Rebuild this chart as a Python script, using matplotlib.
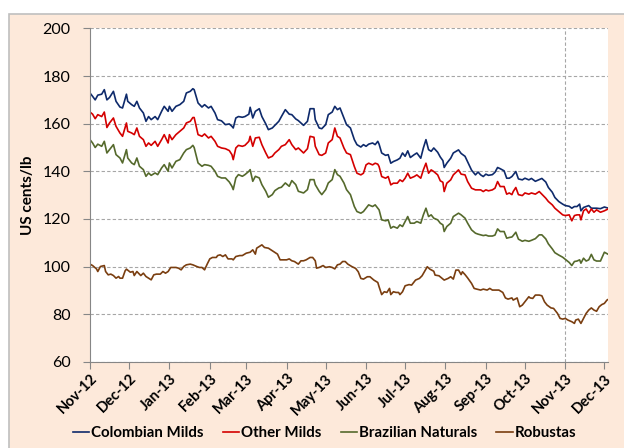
import numpy as np
import pandas as pd
import matplotlib
matplotlib.use('Agg')
import matplotlib.pyplot as plt
import matplotlib.dates as mdates
from matplotlib.patches import Rectangle

plt.rcParams['font.family'] = ['Lato', 'DejaVu Sans']

# days counted from 1 Nov 2012
start = pd.Timestamp('2012-11-01')
days_arabica = [0, 2, 4, 6, 9, 11, 13, 15, 18, 20, 23, 25, 28, 29, 32, 34, 36, 38, 41, 43, 45, 47,
                50, 52, 55, 57, 60, 61, 63, 66, 69, 72, 74, 77, 79, 80, 83, 86, 88, 91, 93, 96, 98, 101,
                104, 107, 109, 110, 112, 114, 117, 119, 122, 123, 125, 127, 130, 132, 135, 137, 140, 142,
                145, 147, 150, 153, 155, 158, 160, 164, 167, 169, 172, 173, 176, 178, 181, 183, 186, 188,
                190, 192, 195, 197, 200,
                203, 205, 208, 210, 212, 214, 217, 219, 221, 222, 224, 227, 229, 231, 233, 236, 238, 240,
                242, 244, 246, 249, 251, 254, 256, 258, 260, 262, 264, 267, 269, 271, 272, 274, 277, 279,
                283, 285, 288, 290, 293, 296, 298, 300,
                302, 304, 306, 309, 311, 313, 315, 318, 320, 322, 324, 325, 327, 329, 332, 334, 337, 339,
                342, 345, 347, 350, 352, 355, 357, 360, 363, 365, 368, 370, 372, 374, 376, 377, 379, 381,
                383, 385, 387, 389, 392, 395, 398]

colombian = [172.9, 171.5, 170, 172, 172.4, 174.3, 170, 171, 173.6, 169.4, 167, 166.6, 172.4, 169.4, 168,
             167.3, 169.4, 166.6, 164.5, 161, 163, 161.7, 163, 161.7, 165.2, 167.3, 165.2, 167.3, 165.2,
             167.3, 168, 169.4, 172.9, 173.6, 174.7, 174.3, 168.7, 167, 168, 166.6, 167.3, 164.5, 161.7, 161.2,
             159.6, 159.9, 158.9, 158.2, 162.4, 163, 162.7, 163, 164, 166.9, 162.4, 165.2, 166.3, 163, 159.9,
             157.5, 158.2, 159.3, 161, 163, 165.9, 164, 163.8, 162, 161.3, 159.3, 161, 166.3, 166.3, 161.7,
             158.2, 157.9, 159.6, 163.8, 164.9, 167.3, 165.9, 166.6, 162.4, 159.6, 158.2,
             153.3, 151.2, 150.2, 151.2, 150.5, 151.4, 151.9, 151.2, 152.6, 151.4, 147.7, 146.7, 147, 143.4,
             144.1, 144.8, 145.5, 147.7, 146.3, 148.6, 145.8, 147, 147.7, 145.5, 149.8, 153.3, 149.1, 148.4,
             149.8, 148, 146, 144.5, 141.6, 143.4, 145.5, 147.7, 149, 147.5, 146.3, 144, 140.5, 138.5, 139.7, 138.5,
             137.8, 138.8, 138.3, 138.6, 139.6, 141.6, 141.1, 140.2, 137.1, 137.1, 137.8, 138.5, 139.9, 136.8,
             136.4, 137.1, 136.4, 137, 135.8, 136.5, 137, 135.5, 133.2, 131.2, 129, 127.3, 126.2, 125.6, 125.3,
             124.5, 125.2, 125.2, 126.2, 123.4, 124.8, 125.2, 125.6, 124.5, 124.5, 124.5, 124.3, 125, 124.5]

other_milds = [164.9, 164, 162.1, 163.8, 163, 164.9, 158.4, 160.3, 162.4, 158.9, 156.1, 154.7, 160.3, 156.8,
               156.1, 155.4, 158.2, 154.7, 153.3, 150.5, 151.9, 150.9, 152.6, 150.5, 153.3, 155.4, 151.9, 155.4,
               153.3, 155.4, 156.8, 158.2, 160.3, 161, 162.6, 162.6, 155.4, 154.7, 155.7, 154, 154.7, 152.6,
               150.5, 149.8,
               149.5, 148.7, 147, 144.9, 149.8, 150.9, 150.5, 150.9, 152.6, 154.7, 150.5, 154, 154.3, 151.2,
               147.7, 145.6, 146.3, 147.7, 149.1, 150.5, 151.2, 153.3, 151.2, 149.1, 149.8, 147.7, 149.5, 154.7,
               154.3, 150.5, 147, 146.7, 147.7, 151.9, 153.3, 158.2, 154.7, 154, 149.8, 147.7, 147,
               142, 139.2, 138.5, 139.2, 142.7, 143.4, 142.7, 143.4, 143, 142, 137.8, 137.1, 137.8, 134.3, 135,
               135, 136.4, 135.7, 137.1, 139.2, 137.1, 137.8, 138.5, 137.1, 140.6, 143.4, 139.2, 140.6, 139.9,
               138.5, 136, 135.4, 131.5, 135, 136.4, 138.5, 140.6, 138.8, 138.5, 135.7, 132.9, 132.2, 132.2, 132.2,
               131.5, 132.2, 131.8, 132.2, 132.9, 135.7, 133.6, 133.6, 130.4, 130.9, 130.2, 131.5, 133.2, 130.2,
               129.8, 130.9, 130.4, 130.9, 130.4, 131.5, 130.4, 128.7, 127.3, 125.9, 124.5, 123.1, 121.7, 121.4,
               121.7, 119.2, 121.4, 121.7, 121.7, 119.6, 123.4, 124.2, 122.4, 124.2, 122.8, 123.8, 122.8, 123.4,
               124.2]

brazilian = [153.3, 151.9, 150, 151.4, 150.5, 152.6, 147.7, 149.1, 151.2, 147, 145.6, 143.5, 149.1, 145.6,
             143.5, 142.8, 145.6, 142.1, 140.7, 137.9, 139.3, 138.3, 139.3, 138.6, 141.4, 142.8, 140, 143.5,
             141.4, 144.2, 144.9, 147.7, 149.1, 149.8, 150.9, 150, 143.5, 142.1, 142.8, 142.5, 142.1, 140,
             137.9, 137.2,
             137.2, 135.5, 133.7, 132.3, 137.2, 138.6, 137.9, 138.6, 140, 140.7, 135.8, 137.9, 137.2, 134.4,
             131.6, 129.1, 130.2, 131.9, 133, 133.3, 135.1, 133.7, 136.1, 134.4, 131.6, 130.9, 132.3, 136.5,
             136.5, 134.4, 131.6, 130.2, 132.3, 135.1, 136.5, 140.7, 138.6, 137.9, 135.1, 132.3, 130.2,
             125.2, 123.1, 122.4, 123.1, 124.5, 125.9, 125.2, 125.9, 124.5, 123.8, 119.6, 119.2, 119.6, 116.1,
             116.8, 116.1, 117.5, 116.8, 118.9, 121, 118.2, 118.2, 118.9, 118.2, 121.7, 124.5, 121, 121.7,
             120.3, 119.6, 118.2, 117.5, 114.7, 116.8, 118.2, 121, 122.4, 121.7, 120.3, 118.2, 115.4, 114,
             113.6, 113.3,
             113, 113.2, 112.8, 112.8, 113.2, 115.8, 114.7, 114.7, 111.9, 112.2, 112.4, 113, 114.4, 111.5,
             110.6, 111, 110.6, 111, 111.7, 113.3, 113.3, 111.6, 109.5, 107.4, 105.8, 104.8, 103.9, 103,
             101.7, 100.4, 102.1, 102.3, 102.8, 101.4, 103.5, 102.3, 102.8, 105.1, 102.8, 102.3, 102.3, 106,
             105.1]

days_robusta = [0, 2, 5, 6, 8, 11, 12, 14, 16, 18, 20, 22, 23, 25, 27, 28, 31, 33, 34, 36, 38, 39, 41, 43,
                45, 47, 49, 51, 54, 56, 58, 60, 62, 64, 66, 68, 70, 72, 74, 77, 79, 82, 84, 86, 88, 90, 92,
                94, 97, 98, 100, 102, 104, 106, 109, 110, 112, 115, 117, 120, 123, 125, 127, 128, 130, 132,
                134, 137, 139, 142, 144, 146, 148, 151, 153, 155, 157, 160, 162, 164, 166, 169, 171, 173,
                174, 176, 179, 181, 184, 186, 188, 190, 192, 194, 196, 198, 201,
                204, 206, 208, 210, 213, 215, 218, 221, 222, 224, 226, 228, 230, 231, 233, 235, 237, 238,
                240, 242, 245, 247, 250, 253, 255, 257, 259, 261, 264, 265, 268, 270, 272, 275, 277, 279,
                281, 283, 285, 286, 288, 290, 293, 295, 297, 300, 302, 305, 307, 309, 311, 314, 317, 319,
                321, 324, 325, 328, 330, 332, 334, 337, 338, 340, 342, 345, 347, 349, 351, 354, 356, 359,
                361, 363, 365, 367, 370, 372, 373, 375, 377, 379, 381, 383, 385, 387, 389, 391, 393, 395,
                397, 398]

robustas = [101, 100.4, 99, 97.9, 100, 100.4, 97.9, 96.5, 96.8, 96.2, 95.1, 95.8, 95.1, 95.1, 98.2, 98.9,
            97.6, 97.9, 96.2, 97.9, 96.8, 96.2, 97.2, 95.8, 95.1, 94.4, 96.5, 96.8, 96.8, 97.9, 97.2, 97.9,
            99.6, 99.6, 99.6, 99.3, 98.6, 100, 100.7, 101, 100.7, 100, 99.6, 99.6, 98.6, 101, 103.2, 103.8,
            103.8, 104.6, 104.9, 104.2, 104.9, 103.2, 103.2, 102.8, 104.2, 104.6, 104.6, 105.6, 106, 107,
            105.2, 107.7, 108.4, 109.1, 108, 107.7, 107, 106, 105.2, 102.8, 102.8, 102.8, 103.2, 102.4,
            102.1, 101, 102.4, 102.4, 102.8, 103.8, 103.8, 102.4, 99.3, 99.6, 100.4, 99.6, 99.9, 99.6, 99,
            100.7, 101, 102.1, 102.1, 101, 100,
            99.2, 97.8, 95, 94.7, 95.7, 95.7, 94.3, 93.3, 91.5, 88.2, 89.4, 89.1, 90.8, 88.2, 89.4, 89.1,
            89.1, 88.2, 89.4, 91.9, 92.4, 92.2, 94.3, 95, 96.1, 98, 99.9, 98.9, 98, 96.4, 96.1, 95.2, 94.3,
            95, 95.7, 94.7, 98.5, 98.5, 96.6, 97.8, 96.6, 95.2, 92.9, 90.8, 90.5, 90.1, 90.5, 90.1, 90.8,
            90.1, 90.1, 90.1, 89.1, 86.8, 86.3, 86.8, 85.9, 86.8, 83.1, 83.8, 85.2, 87.3, 86.8, 86.6, 88,
            88, 87.7, 85.2, 83.8, 82.6, 82.4, 80.3, 78.2, 77.9, 78.2, 77.5, 76.8, 76.1, 77.5, 77.9, 76.1,
            78.2, 80.3, 81.7, 82.6, 81.7, 81.2, 83.1, 84, 84.5, 85.9, 86.2]

dates_a = start + pd.to_timedelta(days_arabica, unit='D')
dates_r = start + pd.to_timedelta(days_robusta, unit='D')

fig = plt.figure(figsize=(6.24, 4.48), dpi=100)
# peach chart-area background with a thin grey border, drawn behind the axes
fig.patches.append(Rectangle((9 / 624, -0.01), 1.0, 1 - 14 / 448 + 0.01, transform=fig.transFigure,
                             facecolor='#FDE9DA', edgecolor='#BFBFBF', linewidth=1.2, zorder=-10))

ax = fig.add_axes([0.1442, 0.1926, 0.8306, 0.7438])
ax.set_facecolor('white')

ax.plot(dates_a, colombian, color='#0E2A6B', linewidth=1.2, label='Colombian Milds')
ax.plot(dates_a, other_milds, color='#D40000', linewidth=1.2, label='Other Milds')
ax.plot(dates_a, brazilian, color='#55692C', linewidth=1.2, label='Brazilian Naturals')
ax.plot(dates_r, robustas, color='#7A3E10', linewidth=1.2, label='Robustas')

ax.set_ylim(60, 200)
ax.set_yticks(np.arange(60, 201, 20))
ax.set_xlim(start, start + pd.Timedelta(days=398))
ax.xaxis.set_major_locator(mdates.MonthLocator())
ax.xaxis.set_major_formatter(mdates.DateFormatter('%b-%y'))

# horizontal dashed grid + a single vertical line at Nov-13
ax.grid(axis='y', linestyle=(0, (3, 2)), color='#A6A6A6', linewidth=0.8)
ax.axvline(pd.Timestamp('2013-11-01'), linestyle=(0, (3, 2)), color='#A6A6A6', linewidth=0.8, zorder=0)
ax.set_axisbelow(True)

for side in ['top', 'right']:
    ax.spines[side].set_visible(False)
for side in ['left', 'bottom']:
    ax.spines[side].set_color('#868686')

ax.tick_params(axis='y', direction='out', length=5, color='#868686', labelsize=11.5, pad=9)
ax.tick_params(axis='x', direction='out', length=5, color='#868686', labelsize=10.5, pad=2)
for lab in ax.get_xticklabels():
    lab.set_rotation(45)
    lab.set_ha('right')
    lab.set_rotation_mode('anchor')
    lab.set_fontweight('bold')

ax.set_ylabel('US cents/lb', fontsize=11, fontweight='bold', labelpad=5)

leg = fig.legend(loc='center', bbox_to_anchor=(0.52, 0.034), ncol=4, frameon=False,
                 handlelength=1.1, handletextpad=0.1, columnspacing=1.3,
                 prop={'weight': 'bold', 'size': 10.8})

fig.savefig('out.png', dpi=100)
